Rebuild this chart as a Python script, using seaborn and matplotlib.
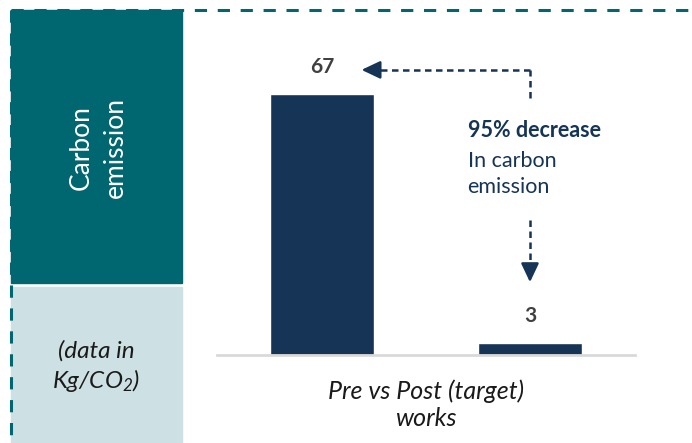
import matplotlib
matplotlib.use("Agg")
import matplotlib.pyplot as plt
from matplotlib.patches import Rectangle
from matplotlib.lines import Line2D
import seaborn as sns
import pandas as pd

# Chart data
periods = ["Pre works", "Post (target) works"]
emissions = [67, 3]
change_title = "95% decrease"
change_text = "In carbon\nemission"
panel_title = "Carbon\nemission"
panel_unit = "(data in\nKg/CO$_2$)"
x_title = "Pre vs Post (target)\nworks"

TEAL = "#006670"
PALE = "#cde0e4"
NAVY = "#163456"
GREY_TXT = "#404040"

sns.set_theme(style="white")
plt.rcParams["font.family"] = ["Lato", "DejaVu Sans"]
plt.rcParams["mathtext.fontset"] = "custom"
plt.rcParams["mathtext.it"] = "Lato:italic"
plt.rcParams["mathtext.rm"] = "Lato:italic"

W, H = 692, 443
fig = plt.figure(figsize=(W / 100, H / 100), dpi=100)

def fx(px):
    return px / W

def fy(py):
    return 1 - py / H

# Side panels
fig.patches.append(Rectangle((fx(11), fy(283)), fx(182) - fx(11), fy(10) - fy(283),
                             transform=fig.transFigure, color=TEAL, zorder=0))
fig.patches.append(Rectangle((fx(11), fy(443)), fx(182) - fx(11), fy(287) - fy(443),
                             transform=fig.transFigure, color=PALE, zorder=0))
fig.text(fx(98), fy(148), panel_title, rotation=90, color="white", fontsize=19,
         ha="center", va="center", linespacing=1.45)
fig.text(fx(96), fy(367), panel_unit, color="#1a1a1a", fontsize=17.5, style="italic",
         ha="center", va="center", linespacing=1.3)

# Dashed frame along the top and left edges
fig.lines.append(Line2D([fx(11), fx(692)], [fy(10), fy(10)], transform=fig.transFigure,
                        color=TEAL, lw=2.2, linestyle=(0, (4, 3.5)), zorder=3))
fig.lines.append(Line2D([fx(11), fx(11)], [fy(10), fy(443)], transform=fig.transFigure,
                        color=TEAL, lw=2.2, linestyle=(0, (4, 3.5)), zorder=3))

# Bar chart
ax = fig.add_axes([fx(217), fy(354.5), fx(635) - fx(217), fy(10) - fy(354.5)])
df = pd.DataFrame({"period": periods, "emission": emissions})
sns.barplot(data=df, x="period", y="emission", color=NAVY, saturation=1,
            width=0.5, ax=ax)
ax.set_xlim(-0.505, 1.505)
ax.set_ylim(0, 88.6)
ax.set_facecolor("none")
for s in ["top", "left", "right"]:
    ax.spines[s].set_visible(False)
ax.spines["bottom"].set_color("#d9d9d9")
ax.spines["bottom"].set_linewidth(2)
ax.set_yticks([])
ax.set_xticks([])
ax.set_ylabel("")
ax.set_xlabel(x_title, fontsize=18, style="italic", color="#1a1a1a",
              labelpad=18, linespacing=1.2)

# Value labels
for i, v in enumerate(emissions):
    ax.annotate(f"{v}", (i, v), xytext=(0, 12), textcoords="offset points",
                ha="center", va="bottom", fontsize=15, fontweight="bold", color=GREY_TXT)

# Change callout: dashed connectors ending in solid arrow heads
dash = dict(color=NAVY, lw=1.8, linestyle=(0, (2.6, 1.8)))
head = dict(arrowstyle="-|>,head_length=0.95,head_width=0.45", color=NAVY,
            lw=1.8, shrinkA=0, shrinkB=0)
arrow_y = 73.2
ax.plot([1.0, 1.0], [66.0, arrow_y], **dash)
ax.plot([1.0, 0.255], [arrow_y, arrow_y], **dash)
ax.annotate("", xy=(0.19, arrow_y), xytext=(0.255, arrow_y), arrowprops=head)
ax.plot([1.0, 1.0], [34.6, 22.2], **dash)
ax.annotate("", xy=(1.0, 18.6), xytext=(1.0, 22.2), arrowprops=head)

ax.text(0.70, 57.5, change_title, fontsize=15.5, fontweight="bold", color=NAVY,
        ha="left", va="center")
ax.text(0.70, 46.5, change_text, fontsize=15.5, color=NAVY, ha="left", va="center",
        linespacing=1.38)

fig.savefig("out.png", dpi=100)
